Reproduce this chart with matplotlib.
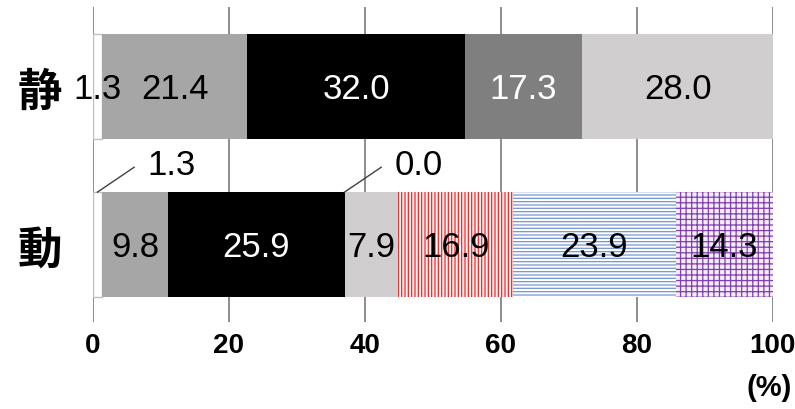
import matplotlib
matplotlib.use("Agg")
import matplotlib.pyplot as plt

plt.rcParams["hatch.linewidth"] = 0.9

categories = ["静", "動"]
white_part = [1.3, 1.3]
gray_part = [21.4, 9.8]
black_part = [32.0, 25.9]
dark_part = [17.3, 0.0]
light_part = [28.0, 7.9]
red_part = [0.0, 16.9]
blue_part = [0.0, 23.9]
purple_part = [0.0, 14.3]
x_ticks = [0, 20, 40, 60, 80, 100]

series = [white_part, gray_part, black_part, dark_part, light_part,
          red_part, blue_part, purple_part]

styles = [
    dict(face="#ffffff", edge="#bfbfbf", hatch=None, lw=1.0, text="black"),
    dict(face="#a6a6a6", edge="none", hatch=None, lw=0, text="black"),
    dict(face="#000000", edge="none", hatch=None, lw=0, text="white"),
    dict(face="#7f7f7f", edge="none", hatch=None, lw=0, text="white"),
    dict(face="#d0cece", edge="none", hatch=None, lw=0, text="black"),
    dict(face="#fff4f4", edge="#ee2a2a", hatch="|||||", lw=0, text="black"),
    dict(face="#ffffff", edge="#7595d6", hatch="-----", lw=0, text="black"),
    dict(face="#f4ecf9", edge="#8040b0", hatch="+++", lw=0, text="black"),
]

num_family = ["Liberation Sans", "DejaVu Sans"]
cjk_family = ["Noto Sans CJK JP", "DejaVu Sans"]

fig = plt.figure(figsize=(7.95, 4.10), dpi=100)
ax = fig.add_axes([0.117, 0.212, 0.855, 0.768])

ypos = [1, 0]
height = 0.665
label_size = 25

left = [0.0, 0.0]
for vals, st in zip(series, styles):
    for i, y in enumerate(ypos):
        v = vals[i]
        is_dyn = categories[i] == "動"
        # skip segments absent from a bar (the zero-valued 動 segment keeps its label)
        if v == 0 and not (is_dyn and vals is dark_part):
            continue
        bar = ax.barh(y, v, left=left[i], height=height, color=st["face"],
                      edgecolor=st["edge"], linewidth=st["lw"], zorder=2)
        if st["hatch"]:
            bar[0].set_hatch(st["hatch"])
            bar[0].set_edgecolor(st["edge"])
            bar[0].set_linewidth(0)
        center = left[i] + v / 2
        txt = f"{v:.1f}"
        if is_dyn and v < 2:
            top = y + height / 2
            ax.plot([center, center + 5.4], [top, 0.49], color="#404040",
                    lw=1.0, zorder=3, clip_on=False)
            ax.text(center + 7.3, 0.505, txt, ha="left", va="center",
                    fontsize=label_size, family=num_family, color="black",
                    zorder=4)
        else:
            ax.text(center, y - 0.01, txt, ha="center", va="center",
                    fontsize=label_size, family=num_family, color=st["text"],
                    zorder=4)
        left[i] += v

ax.set_xlim(0, 100)
ax.set_ylim(-0.49, 1.503)
ax.set_xticks(x_ticks)
ax.set_xticklabels([str(t) for t in x_ticks], fontsize=20, fontweight="bold",
                   family=num_family)
ax.set_yticks(ypos)
ax.set_yticklabels(categories, fontsize=32, fontweight="bold", family=cjk_family)
ax.tick_params(axis="x", length=0, pad=7)
ax.tick_params(axis="y", length=0, pad=22)
for s in ax.spines.values():
    s.set_visible(False)
ax.grid(axis="x", color="#8c8c8c", linewidth=1.4, zorder=0)
ax.set_axisbelow(True)

fig.text(769 / 795, 1 - 388 / 410, "(%)", ha="center", va="center",
         fontsize=21, fontweight="bold", family=num_family)

fig.savefig("out.png", dpi=100)
